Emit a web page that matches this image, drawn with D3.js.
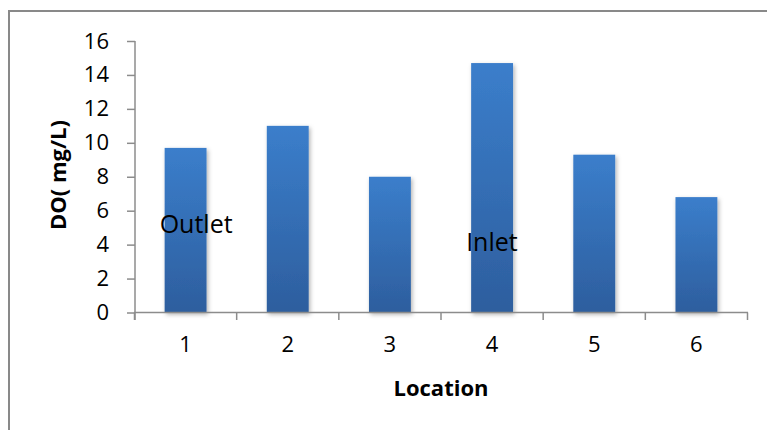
<!DOCTYPE html>
<html>
<head>
<meta charset="utf-8">
<script src="https://cdn.jsdelivr.net/npm/d3@7"></script>
<style>
  html, body { margin: 0; padding: 0; background: #fff; }
  svg { display: block; }
  text { font-family: "Open Sans", "Noto Sans", sans-serif; fill: #000; }
</style>
</head>
<body>
<svg id="chart" width="767" height="430"></svg>
<script>
// Dissolved oxygen by sampling location
const locations = ["1", "2", "3", "4", "5", "6"];
const doValues = [9.7, 11.0, 8.0, 14.7, 9.3, 6.8];
const yTicks = [0, 2, 4, 6, 8, 10, 12, 14, 16];
const siteNotes = [
  { text: "Outlet", location: "1" },
  { text: "Inlet", location: "4" }
];

const svg = d3.select("#chart");
const axisColor = "#8c8c8c";

// Chart area frame
svg.append("rect")
  .attr("x", 9).attr("y", 11)
  .attr("width", 820).attr("height", 500)
  .attr("fill", "none")
  .attr("stroke", "#898989")
  .attr("stroke-width", 2);

const x = d3.scaleBand().domain(locations).range([134.5, 747.5]).paddingInner(0.59).paddingOuter(0.295);
const y = d3.scaleLinear().domain([0, 16]).range([312.5, 41]);

// Bar fill and soft shadow
const defs = svg.append("defs");
const grad = defs.append("linearGradient")
  .attr("id", "barFill").attr("x1", 0).attr("y1", 0).attr("x2", 0).attr("y2", 1);
grad.append("stop").attr("offset", "0%").attr("stop-color", "#3b7ecb");
grad.append("stop").attr("offset", "100%").attr("stop-color", "#2d5e9e");
const shadow = defs.append("filter").attr("id", "barShadow")
  .attr("x", "-30%").attr("y", "-10%").attr("width", "160%").attr("height", "130%");
shadow.append("feDropShadow")
  .attr("dx", 1.5).attr("dy", 2).attr("stdDeviation", 2)
  .attr("flood-color", "#000").attr("flood-opacity", 0.3);

svg.append("g").selectAll("rect")
  .data(doValues)
  .join("rect")
  .attr("x", (d, i) => x(locations[i]))
  .attr("y", d => y(d))
  .attr("width", x.bandwidth())
  .attr("height", d => y(0) - y(d))
  .attr("fill", "url(#barFill)")
  .attr("filter", "url(#barShadow)");

// Y axis
const yAxis = svg.append("g")
  .attr("transform", "translate(135,0)")
  .call(d3.axisLeft(y).tickValues(yTicks).tickSize(8).tickPadding(18).tickFormat(d3.format("d")));
yAxis.select(".domain").remove();
yAxis.selectAll(".tick line").attr("stroke", axisColor).attr("stroke-width", 1.5);
yAxis.selectAll(".tick text").style("font-size", "22px").attr("fill", "#000");
svg.append("line")
  .attr("x1", 135).attr("x2", 135)
  .attr("y1", y(16)).attr("y2", 320)
  .attr("stroke", axisColor).attr("stroke-width", 1.5);

// X axis with ticks between categories
const xAxis = svg.append("g")
  .attr("transform", `translate(0,${y(0)})`)
  .call(d3.axisBottom(x).tickSize(0).tickPadding(24));
xAxis.select(".domain").remove();
xAxis.selectAll(".tick text").style("font-size", "22px").attr("fill", "#000");
svg.append("line")
  .attr("x1", 134).attr("x2", 748)
  .attr("y1", y(0)).attr("y2", y(0))
  .attr("stroke", axisColor).attr("stroke-width", 1.5);
const step = x.step();
svg.append("g").selectAll("line")
  .data(d3.range(locations.length + 1))
  .join("line")
  .attr("x1", i => x.range()[0] + i * step)
  .attr("x2", i => x.range()[0] + i * step)
  .attr("y1", y(0)).attr("y2", 320)
  .attr("stroke", axisColor).attr("stroke-width", 1.5);

// Axis titles
svg.append("text")
  .attr("x", x.range()[0] + (x.range()[1] - x.range()[0]) / 2)
  .attr("y", 396)
  .attr("text-anchor", "middle")
  .style("font-size", "22px").style("font-weight", "bold")
  .text("Location");
svg.append("text")
  .attr("transform", "translate(66,175) rotate(-90)")
  .attr("text-anchor", "middle")
  .style("font-size", "22px").style("font-weight", "bold")
  .text("DO( mg/L)");

// Site annotations over bars
const noteLevel = { "Outlet": 4.7, "Inlet": 3.6 };
svg.append("g").selectAll("text")
  .data(siteNotes)
  .join("text")
  .attr("x", d => x(d.location) - 5)
  .attr("y", d => y(noteLevel[d.text]))
  .style("font-size", "25px")
  .text(d => d.text);
</script>
</body>
</html>
